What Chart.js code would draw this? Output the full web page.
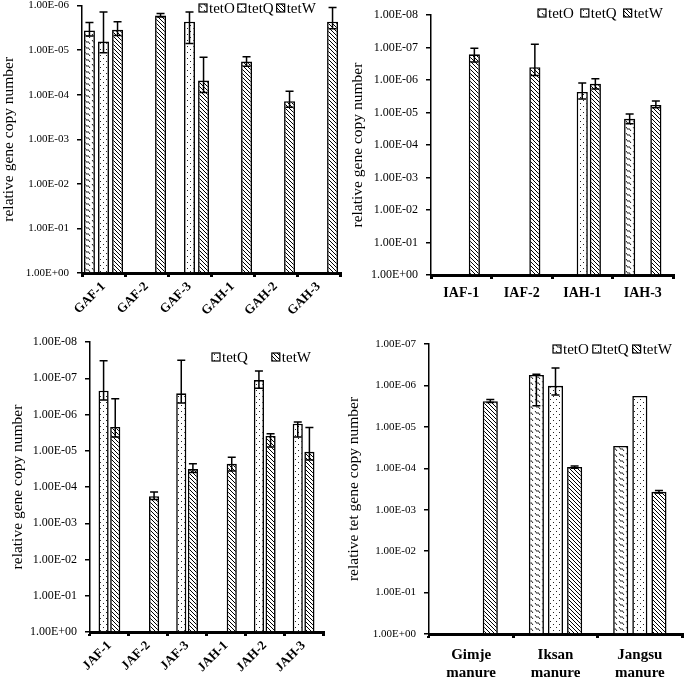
<!DOCTYPE html>
<html>
<head>
<meta charset="utf-8">
<script src="https://cdn.jsdelivr.net/npm/chart.js@4"></script>
<style>
  body { margin: 0; background: #fff; }
  canvas { position: absolute; }
</style>
</head>
<body>
<canvas id="c1" width="345" height="329" style="left:0;top:-9px"></canvas>
<canvas id="c2" width="340" height="325" style="left:345px;top:0"></canvas>
<canvas id="c3" width="345" height="357" style="left:0;top:320px"></canvas>
<canvas id="c4" width="340" height="357" style="left:345px;top:320px"></canvas>
<script>
// panel 1 (GA samples)
const p1Cats = ['GAF-1', 'GAF-2', 'GAF-3', 'GAH-1', 'GAH-2', 'GAH-3'];
const p1TetO = [3.6e-6, null, null, null, null, null];
const p1TetOLo = [2.4e-6, null, null, null, null, null];
const p1TetOHi = [4.8e-6, null, null, null, null, null];
const p1TetQ = [6.4e-6, null, 2.3e-6, null, null, null];
const p1TetQLo = [1.4e-6, null, 1.4e-6, null, null, null];
const p1TetQHi = [1.14e-5, null, 7.1e-6, null, null, null];
const p1TetW = [3.5e-6, 1.66e-6, 4.8e-5, 1.8e-5, 1.4e-4, 2.3e-6];
const p1TetWLo = [2.3e-6, 1.5e-6, 1.45e-5, 1.4e-5, 8.4e-5, 1.1e-6];
const p1TetWHi = [4.7e-6, 1.8e-6, 8.9e-5, 2.3e-5, 1.9e-4, 3.3e-6];
const p1Ticks = [1, 1e-1, 1e-2, 1e-3, 1e-4, 1e-5, 1e-6];

// panel 2 (IA samples)
const p2Cats = ['IAF-1', 'IAF-2', 'IAH-1', 'IAH-3'];
const p2TetO = [null, null, null, 1.55e-5];
const p2TetOLo = [null, null, null, 1.1e-5];
const p2TetOHi = [null, null, null, 2.2e-5];
const p2TetQ = [null, null, 2.3e-6, null];
const p2TetQLo = [null, null, 1.23e-6, null];
const p2TetQHi = [null, null, 3.8e-6, null];
const p2TetW = [1.6e-7, 4e-7, 1.3e-6, 5.8e-6];
const p2TetWLo = [1.05e-7, 7.8e-8, 9.1e-7, 4.4e-6];
const p2TetWHi = [2.75e-7, 7.2e-7, 1.86e-6, 7.1e-6];
const p2Ticks = [1, 1e-1, 1e-2, 1e-3, 1e-4, 1e-5, 1e-6, 1e-7, 1e-8];

// panel 3 (JA samples)
const p3Cats = ['JAF-1', 'JAF-2', 'JAF-3', 'JAH-1', 'JAH-2', 'JAH-3'];
const p3TetQ = [2.2e-7, null, 2.6e-7, null, 1.12e-7, 1.8e-6];
const p3TetQLo = [3.3e-8, null, 3.2e-8, null, 6.3e-8, 1.6e-6];
const p3TetQHi = [4e-7, null, 4.8e-7, null, 1.9e-7, 4.2e-6];
const p3TetW = [2.2e-6, 1.8e-4, 3.2e-5, 2.3e-5, 3.9e-6, 1.07e-5];
const p3TetWLo = [3.7e-7, 1.38e-4, 2.3e-5, 1.5e-5, 3.4e-6, 2.3e-6];
const p3TetWHi = [4.2e-6, 2.2e-4, 4e-5, 3.6e-5, 7.9e-6, 1.8e-5];
const p3Ticks = [1, 1e-1, 1e-2, 1e-3, 1e-4, 1e-5, 1e-6, 1e-7, 1e-8];

// panel 4 (manure)
const p4Cats = [['Gimje', 'manure'], ['Iksan', 'manure'], ['Jangsu', 'manure']];
const p4TetO = [null, 5.6e-7, 2.9e-5];
const p4TetOLo = [null, 5.4e-7, null];
const p4TetOHi = [null, 3.1e-6, null];
const p4TetQ = [null, 1.02e-6, 1.8e-6];
const p4TetQLo = [null, 3.8e-7, null];
const p4TetQHi = [null, 1.7e-6, null];
const p4TetW = [2.4e-6, 9.3e-5, 3.7e-4];
const p4TetWLo = [2.2e-6, 8.8e-5, 3.45e-4];
const p4TetWHi = [2.6e-6, 1.0e-4, 3.95e-4];
const p4Ticks = [1, 1e-1, 1e-2, 1e-3, 1e-4, 1e-5, 1e-6, 1e-7];

Chart.defaults.font.family = "'Liberation Serif', 'Times New Roman', serif";
Chart.defaults.color = '#000';

function makePattern(kind) {
  const c = document.createElement('canvas');
  const g = c.getContext('2d');
  if (kind === 'hatch') {
    c.width = 4; c.height = 4;
    g.fillStyle = '#fff'; g.fillRect(0, 0, 4, 4);
    g.strokeStyle = '#000'; g.lineWidth = 1;
    for (let k = -1; k <= 1; k++) {
      g.beginPath(); g.moveTo(k * 4, 0); g.lineTo(k * 4 + 4, 4); g.stroke();
    }
  } else if (kind === 'dots') {
    c.width = 6; c.height = 6;
    g.fillStyle = '#fff'; g.fillRect(0, 0, 6, 6);
    g.fillStyle = '#222';
    g.fillRect(1, 1, 1, 1); g.fillRect(4, 4, 1, 1);
  } else {
    c.width = 7; c.height = 6;
    g.fillStyle = '#fff'; g.fillRect(0, 0, 7, 6);
    g.strokeStyle = '#000'; g.lineWidth = 0.9;
    g.beginPath(); g.moveTo(1, 1); g.lineTo(3, 3.5); g.lineTo(4, 2.5); g.lineTo(6, 5); g.stroke();
  }
  return g.createPattern(c, 'repeat');
}

const fillO = makePattern('wave');
const fillQ = makePattern('dots');
const fillW = makePattern('hatch');

function sciLabel(v) {
  const e = Math.round(Math.log10(v));
  return '1.00E' + (e < 0 ? '-' : '+') + String(Math.abs(e)).padStart(2, '0');
}

const errorBars = {
  id: 'errorBars',
  afterDatasetsDraw(chart) {
    const ctx = chart.ctx;
    const y = chart.scales.y;
    ctx.save();
    ctx.strokeStyle = '#000';
    ctx.lineWidth = 1.5;
    chart.data.datasets.forEach((ds, i) => {
      if (!ds.errLo) return;
      chart.getDatasetMeta(i).data.forEach((bar, j) => {
        if (ds.data[j] == null || ds.errLo[j] == null) return;
        const x = bar.x;
        const yA = y.getPixelForValue(Math.max(ds.errLo[j], y.min));
        const yB = y.getPixelForValue(ds.errHi[j]);
        ctx.beginPath();
        ctx.moveTo(x, yA); ctx.lineTo(x, yB);
        ctx.moveTo(x - 4, yA); ctx.lineTo(x + 4, yA);
        ctx.moveTo(x - 4, yB); ctx.lineTo(x + 4, yB);
        ctx.stroke();
      });
    });
    ctx.restore();
  }
};

// one-row legend with patterned boxes, placed by hand
const boxLegend = {
  id: 'boxLegend',
  afterDraw(chart, args, opts) {
    const ctx = chart.ctx;
    ctx.save();
    ctx.font = "15px 'Liberation Serif'";
    ctx.textBaseline = 'middle';
    let x = opts.x;
    chart.data.datasets.forEach(ds => {
      ctx.fillStyle = ds.backgroundColor;
      ctx.fillRect(x, opts.y - 4, 8, 8);
      ctx.strokeStyle = '#000';
      ctx.lineWidth = 1.2;
      ctx.strokeRect(x, opts.y - 4, 8, 8);
      ctx.fillStyle = '#000';
      ctx.fillText(ds.label, x + 10, opts.y + 1);
      x += 10 + ctx.measureText(ds.label).width + opts.gap;
    });
    ctx.restore();
  }
};

function bars(label, data, lo, hi, fill) {
  return {
    label: label, data: data, errLo: lo, errHi: hi,
    backgroundColor: fill, borderColor: '#000', borderWidth: 1.6,
    base: 1
  };
}

function drawPanel(id, p) {
  new Chart(document.getElementById(id), {
    type: 'bar',
    data: { labels: p.cats, datasets: p.datasets },
    plugins: [errorBars, boxLegend],
    options: {
      responsive: false,
      animation: false,
      devicePixelRatio: 1,
      layout: { padding: { top: p.top, right: p.right, left: 0, bottom: 0 } },
      datasets: { bar: { categoryPercentage: p.catPct, barPercentage: p.barPct } },
      plugins: {
        tooltip: { enabled: false },
        legend: { display: false },
        boxLegend: p.legend
      },
      scales: {
        x: {
          offset: true,
          grid: { drawOnChartArea: false, offset: true, tickLength: 4, lineWidth: 3, color: '#000' },
          border: { width: 3, color: '#000' },
          ticks: {
            font: { size: p.xFont, weight: 'bold' }, color: '#000',
            minRotation: p.rot, maxRotation: p.rot, padding: p.xPad, autoSkip: false
          },
          afterFit: s => { s.height = p.xHeight; }
        },
        y: {
          type: 'logarithmic',
          reverse: true,
          min: p.ticks[p.ticks.length - 1],
          max: 1,
          grid: { drawOnChartArea: false, tickLength: 5, color: '#000', lineWidth: 1.5 },
          border: { width: 1.5, color: '#000' },
          ticks: { font: { size: p.yFont }, color: '#000', padding: 8, callback: v => sciLabel(v) },
          afterBuildTicks: s => { s.ticks = p.ticks.map(v => ({ value: v })); },
          title: {
            display: true, text: p.yTitle, color: '#000',
            font: { size: 15.5 }, padding: { top: p.titlePad, bottom: 0 }
          },
          afterFit: s => { s.width = p.yWidth; }
        }
      }
    }
  });
}

drawPanel('c1', {
  cats: p1Cats, ticks: p1Ticks, yTitle: 'relative gene copy number',
  datasets: [
    bars('tetO', p1TetO, p1TetOLo, p1TetOHi, fillO),
    bars('tetQ', p1TetQ, p1TetQLo, p1TetQHi, fillQ),
    bars('tetW', p1TetW, p1TetWLo, p1TetWHi, fillW)
  ],
  top: 5, right: 5, yWidth: 82, xHeight: 47, catPct: 0.98, barPct: 0.78,
  rot: 45, xFont: 13, xPad: 2, yFont: 11, titlePad: 0,
  legend: { x: 199, y: 17, gap: 3 }
});

drawPanel('c2', {
  cats: p2Cats, ticks: p2Ticks, yTitle: 'relative gene copy number',
  datasets: [
    bars('tetO', p2TetO, p2TetOLo, p2TetOHi, fillO),
    bars('tetQ', p2TetQ, p2TetQLo, p2TetQHi, fillQ),
    bars('tetW', p2TetW, p2TetWLo, p2TetWHi, fillW)
  ],
  top: 14, right: 12, yWidth: 86, xHeight: 50, catPct: 0.65, barPct: 0.85,
  rot: 0, xFont: 14, xPad: 6, yFont: 12, titlePad: 4,
  legend: { x: 193, y: 13, gap: 7 }
});

drawPanel('c3', {
  cats: p3Cats, ticks: p3Ticks, yTitle: 'relative gene copy number',
  datasets: [
    bars('tetQ', p3TetQ, p3TetQLo, p3TetQHi, fillQ),
    bars('tetW', p3TetW, p3TetWLo, p3TetWHi, fillW)
  ],
  top: 22, right: 22, yWidth: 90, xHeight: 45, catPct: 0.6, barPct: 0.87,
  rot: 45, xFont: 13, xPad: 2, yFont: 12, titlePad: 9,
  legend: { x: 212, y: 37, gap: 24 }
});

drawPanel('c4', {
  cats: p4Cats, ticks: p4Ticks, yTitle: 'relative tet gene copy number',
  datasets: [
    bars('tetO', p4TetO, p4TetOLo, p4TetOHi, fillO),
    bars('tetQ', p4TetQ, p4TetQLo, p4TetQHi, fillQ),
    bars('tetW', p4TetW, p4TetWLo, p4TetWHi, fillW)
  ],
  top: 24, right: 3, yWidth: 84, xHeight: 43, catPct: 0.68, barPct: 0.79,
  rot: 0, xFont: 15, xPad: 8, yFont: 11, titlePad: 0,
  legend: { x: 208, y: 29, gap: 4 }
});
</script>
</body>
</html>
